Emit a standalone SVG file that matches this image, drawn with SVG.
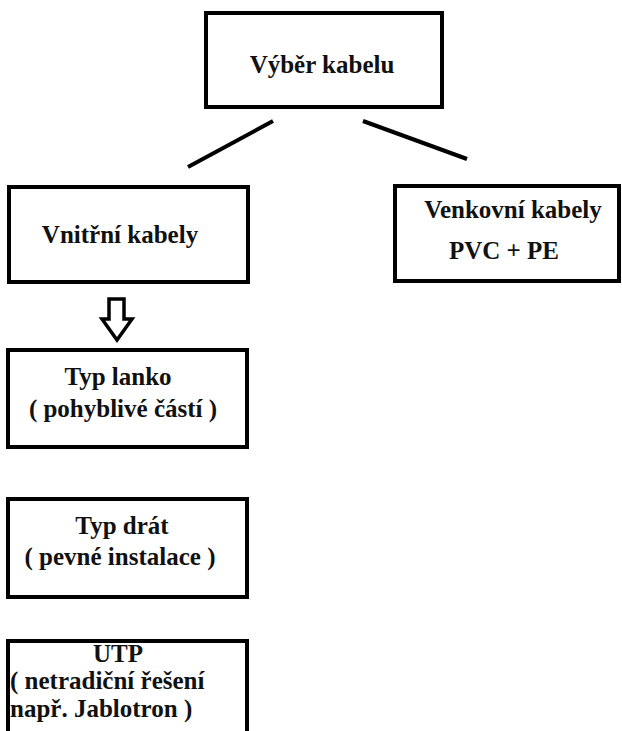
<svg xmlns="http://www.w3.org/2000/svg" width="622" height="731" viewBox="0 0 622 731">
<style>
.box{fill:#fff;stroke:#000;stroke-width:4}
.t{font-family:'Liberation Serif','Times New Roman',Times,serif;font-weight:bold;font-size:25px;fill:#111}
.c{text-anchor:middle}
.ln{stroke:#000;stroke-width:4;fill:none}
</style>
<rect width="622" height="731" fill="#fff"/>
<g id="connectors">
<line class="ln" x1="273" y1="121" x2="188" y2="167"/>
<line class="ln" x1="363" y1="121" x2="467" y2="159"/>
<path d="M109,299 H124 V319 H132 L117,340 L102,319 H109 Z" fill="#fff" stroke="#000" stroke-width="3.5" stroke-linejoin="miter"/>
</g>
<g id="vyber">
<rect class="box" x="206" y="13" width="236" height="94"/>
<text class="t c" x="322" y="73">Výběr kabelu</text>
</g>
<g id="vnitrni">
<rect class="box" x="9" y="187" width="239" height="95"/>
<text class="t c" x="120" y="243">Vnitřní kabely</text>
</g>
<g id="venkovni">
<rect class="box" x="395" y="186" width="224" height="95"/>
<text class="t c" x="513" y="218">Venkovní kabely</text>
<text class="t c" x="504" y="259">PVC + PE</text>
</g>
<g id="lanko">
<rect class="box" x="8" y="350" width="239" height="97"/>
<text class="t c" x="118" y="385">Typ lanko</text>
<text class="t c" x="123" y="417">( pohyblivé částí )</text>
</g>
<g id="drat">
<rect class="box" x="8" y="499" width="239" height="98"/>
<text class="t c" x="122" y="534">Typ drát</text>
<text class="t c" x="120" y="565">( pevné instalace )</text>
</g>
<g id="utp">
<rect class="box" x="8" y="641" width="239" height="100"/>
<text class="t c" x="118" y="662">UTP</text>
<text class="t" x="10" y="689">( netradiční řešení</text>
<text class="t" x="10" y="717">např. Jablotron )</text>
</g>
</svg>
